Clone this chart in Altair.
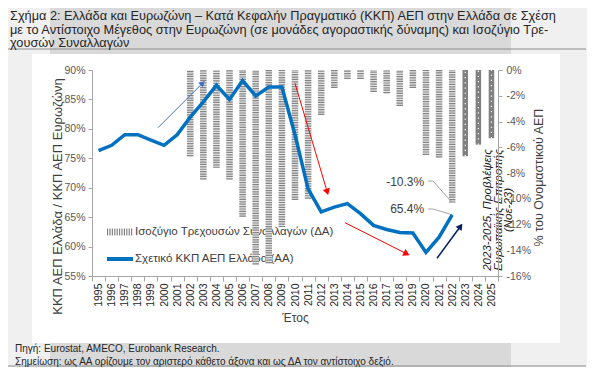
import math
import altair as alt
import pandas as pd

# ---------------- data ----------------
years = [str(y) for y in range(1995, 2026)]
ratio_years = [str(y) for y in range(1995, 2023)]
ratio_vals = [76.3, 77.2, 79.0, 79.0, 78.1, 77.2, 79.0, 82.0, 84.6, 87.4,
              85.0, 88.2, 85.6, 87.1, 87.1, 79.0, 69.8, 65.9, 66.7, 67.3,
              65.6, 63.6, 62.9, 62.4, 62.3, 59.0, 61.6, 65.4]
ca_years = [str(y) for y in range(2002, 2023)]
ca_vals = [-6.7, -8.5, -7.6, -8.5, -11.4, -15.1, -15.0, -12.2, -10.1, -10.0,
           -3.5, -1.4, -0.7, -0.7, -1.7, -1.8, -2.8, -1.4, -6.6, -6.8, -10.3]
fc_years = ["2023", "2024", "2025"]
fc_vals = [-6.7, -5.8, -5.3]
left_ticks = [55, 60, 65, 70, 75, 80, 85, 90]
right_ticks = [0, -2, -4, -6, -8, -10, -12, -14, -16]

title_lines = [
    "Σχήμα 2: Ελλάδα και Ευρωζώνη – Κατά Κεφαλήν Πραγματικό (ΚΚΠ) ΑΕΠ στην Ελλάδα σε Σχέση",
    "με το Αντίστοιχο Μέγεθος στην Ευρωζώνη (σε μονάδες αγοραστικής δύναμης) και Ισοζύγιο Τρε-",
    "χουσών Συναλλαγών",
]
lab_ca = "Ισοζύγιο Τρεχουσών Συναλλαγών (ΔΑ)"
lab_line = "Σχετικό ΚΚΠ ΑΕΠ Ελλάδα (ΑΑ)"
left_title = "ΚΚΠ ΑΕΠ Ελλάδα / ΚΚΠ ΑΕΠ Ευρωζώνη"
right_title = "% του Ονομαστικού ΑΕΠ"
x_title = "Έτος"
forecast_note = "2023-2025, Προβλέψεις\nΕυρωπαϊκής Επιτροπής\n(Νοε-23)"
source_note = "Πηγή: Eurostat, AMECO, Eurobank Research."
remark_note = "Σημείωση: ως ΑΑ ορίζουμε τον αριστερό κάθετο άξονα και ως ΔΑ τον αντίστοιχο δεξιό."

FONT = "Liberation Sans"
W, H = 406, 206
PAD = {"left": 84, "top": 62, "right": 89, "bottom": 91}
BLUE = "#0070c0"
HATCH = "#858585"

dummy = pd.DataFrame({"k": [0]})
ca_df = pd.DataFrame({"year": ca_years, "v": ca_vals})
fc_df = pd.DataFrame({"year": fc_years, "v": fc_vals})
line_df = pd.DataFrame({"year": ratio_years, "ratio": ratio_vals})

# ---------------- encodings ----------------
x_enc = alt.X(
    "year:O",
    scale=alt.Scale(domain=years, paddingInner=0, paddingOuter=0),
    axis=alt.Axis(
        title=x_title, labelAngle=270, labelAlign="right", labelBaseline="middle",
        labelFontSize=10.5, labelColor="#262626", labelPadding=2, tickSize=5,
        tickBand="extent", tickColor="#a6a6a6", domainColor="#a6a6a6",
        titleFontSize=12, titleColor="#404040", titleFontWeight="normal",
        titleY=41, titleBaseline="middle", labelFont=FONT, titleFont=FONT, zindex=1,
    ),
)
y_line = alt.Y(
    "ratio:Q",
    scale=alt.Scale(domain=[55, 90], nice=False, zero=False),
    axis=alt.Axis(
        orient="left", values=left_ticks, labelExpr="datum.value + '%'",
        title=left_title, grid=False, tickSize=4, labelPadding=3,
        labelFontSize=10.5, labelColor="#595959", tickColor="#a6a6a6",
        domainColor="#a6a6a6", titleFontSize=13, titleColor="#404040",
        titleFontWeight="normal", titleAngle=270, titleX=-35, titleY=126,
        titleAlign="center", titleBaseline="middle", labelFont=FONT, titleFont=FONT,
        zindex=1,
    ),
)
y_bar = alt.Y(
    "v:Q",
    scale=alt.Scale(domain=[-16, 0], nice=False),
    axis=alt.Axis(
        orient="right", values=right_ticks, labelExpr="datum.value + '%'",
        title=right_title, grid=False, tickSize=4, labelPadding=4,
        labelFontSize=10.5, labelColor="#595959", tickColor="#a6a6a6",
        domainColor="#a6a6a6", titleFontSize=12.5, titleColor="#404040",
        titleFontWeight="normal", titleAngle=270, titleX=40, titleY=107,
        titleAlign="center", titleBaseline="middle", labelFont=FONT, titleFont=FONT,
        zindex=1,
    ),
)

# ---------------- decorations ----------------
def rect(x1, x2, y1, y2, col):
    return alt.Chart(dummy).mark_rect(color=col).encode(
        x=alt.value(x1), x2=alt.value(x2), y=alt.value(y1), y2=alt.value(y2))

def seg(x1, y1, x2, y2, col, w=1.0, dash=None):
    kw = {"color": col, "strokeWidth": w}
    if dash:
        kw["strokeDash"] = dash
    return alt.Chart(dummy).mark_rule(**kw).encode(
        x=alt.value(x1), x2=alt.value(x2), y=alt.value(y1), y2=alt.value(y2))

def label(txt, x, y, size=11.5, col="#404040", align="left", baseline="middle", lh=None):
    kw = {}
    if lh:
        kw["lineHeight"] = lh
        kw["lineBreak"] = "\n"
    return alt.Chart(dummy).mark_text(
        text=txt, align=align, baseline=baseline, fontSize=size, font=FONT, color=col, **kw
    ).encode(x=alt.value(x), y=alt.value(y))

band = rect(-42, 419, -62, 297, "#d9d9d9")
white_box = rect(-60, 468, -16, 273, "#ffffff")
title_rule = seg(-84, -21, 494, -21, "#8c8c8c")
foot_rule = seg(-84, 296, 494, 296, "#8c8c8c")
title_txt = label("\n".join(title_lines), -82, -60, 12.75, "#262626", baseline="top", lh=13.5)

# ---------------- legend (drawn) ----------------
leg = alt.layer(
    seg(15, 162, 41, 162, HATCH, 7, [1.2, 1.2]),
    label(lab_ca, 43, 162),
    seg(15, 189, 41, 189, BLUE, 4),
    label(lab_line, 43, 189),
)

# ---------------- bars ----------------
hatch_bg = alt.Chart(ca_df).mark_bar(size=6.5, color="#e4e4e4").encode(x=x_enc, y=y_bar)
hatch = alt.Chart(ca_df).mark_rule(strokeWidth=6.5, strokeDash=[1.2, 1.2], color=HATCH).encode(
    x=x_enc, y=y_bar, y2=alt.datum(0))
fc_bar = alt.Chart(fc_df).mark_bar(size=5.5, color="#808080").encode(x=x_enc, y=y_bar)
fc_dots = alt.Chart(fc_df).mark_rule(color="white", strokeWidth=1.2, strokeDash=[1.2, 4]).encode(
    x=x_enc, y=y_bar, y2=alt.datum(0))

ca_last = ca_df[ca_df["year"] == "2022"]
ca_text = alt.Chart(ca_last).mark_text(
    align="right", baseline="middle", dx=-28, dy=-21, fontSize=12, font=FONT, color="#404040"
).transform_calculate(lbl="datum.v + '%'").encode(x=x_enc, y=y_bar, text="lbl:N")
ca_lead = alt.Chart(ca_last).mark_rule(color="#a6a6a6", strokeWidth=1).encode(
    x=x_enc, y=y_bar, x2=alt.value(341), y2=alt.value(111))

bars_layer = alt.layer(hatch_bg, hatch, fc_bar, fc_dots, ca_lead, ca_text)

# ---------------- line ----------------
line = alt.Chart(line_df).mark_line(strokeWidth=3.5, color=BLUE).encode(x=x_enc, y=y_line)
line_last = line_df[line_df["year"] == "2022"]
line_text = alt.Chart(line_last).mark_text(
    align="right", baseline="middle", dx=-28, dy=-6, fontSize=12, font=FONT, color="#404040"
).transform_calculate(lbl="datum.ratio + '%'").encode(x=x_enc, y=y_line, text="lbl:N")
line_lead = alt.Chart(line_last).mark_rule(color="#a6a6a6", strokeWidth=1).encode(
    x=x_enc, y=y_line, x2=alt.value(341), y2=alt.value(139))

line_layer = alt.layer(line_lead, line, line_text)

# ---------------- annotations ----------------
lead_h1 = seg(336, 111, 341, 111, "#a6a6a6")
lead_h2 = seg(336, 139, 341, 139, "#a6a6a6")

def arrow(p0, p1, col, w, size):
    dx, dy = p1[0] - p0[0], p1[1] - p0[1]
    L = math.hypot(dx, dy)
    ux, uy = dx / L, dy / L
    r = math.sqrt(size) / 2
    cx, cy = p1[0] - r * ux, p1[1] - r * uy
    ang = math.degrees(math.atan2(dx, -dy)) % 360
    shaft = seg(p0[0], p0[1], cx, cy, col, w)
    head = alt.Chart(dummy).mark_point(
        shape="triangle-up", filled=True, color=col, opacity=1, size=size, strokeWidth=0
    ).encode(x=alt.value(cx), y=alt.value(cy), angle=alt.value(ang))
    return alt.layer(shaft, head)

arrows = [
    arrow((66, 57.7), (113, 10.7), "#4472c4", 1.0, 45),
    arrow((203, 13.3), (236.3, 125.5), "#ff0000", 1.0, 55),
    arrow((253, 152.7), (318, 185.5), "#ff0000", 1.0, 55),
    arrow((345, 188.3), (370.7, 153.3), "#002060", 1.5, 55),
]

note = alt.Chart(dummy).mark_text(
    text=forecast_note, lineBreak="\n", angle=270, align="center", baseline="middle",
    fontStyle="italic", fontSize=11.5, lineHeight=10.5, font=FONT, color="#1a1a1a",
).encode(x=alt.value(396), y=alt.value(140))

src = label(source_note, -77, 279, 10, "#262626")
rem = label(remark_note, -77, 292, 10, "#262626")

chart = alt.layer(
    band, white_box, title_rule, foot_rule, title_txt, leg,
    bars_layer, line_layer,
    lead_h1, lead_h2, *arrows, note, src, rem,
).resolve_scale(y="independent").properties(
    width=W, height=H, padding=PAD, autosize=alt.AutoSizeParams(type="none"),
).configure(background="#f0f0f0").configure_view(stroke=None)

chart.save("out.html", embed_options={"renderer": "svg", "actions": False})
